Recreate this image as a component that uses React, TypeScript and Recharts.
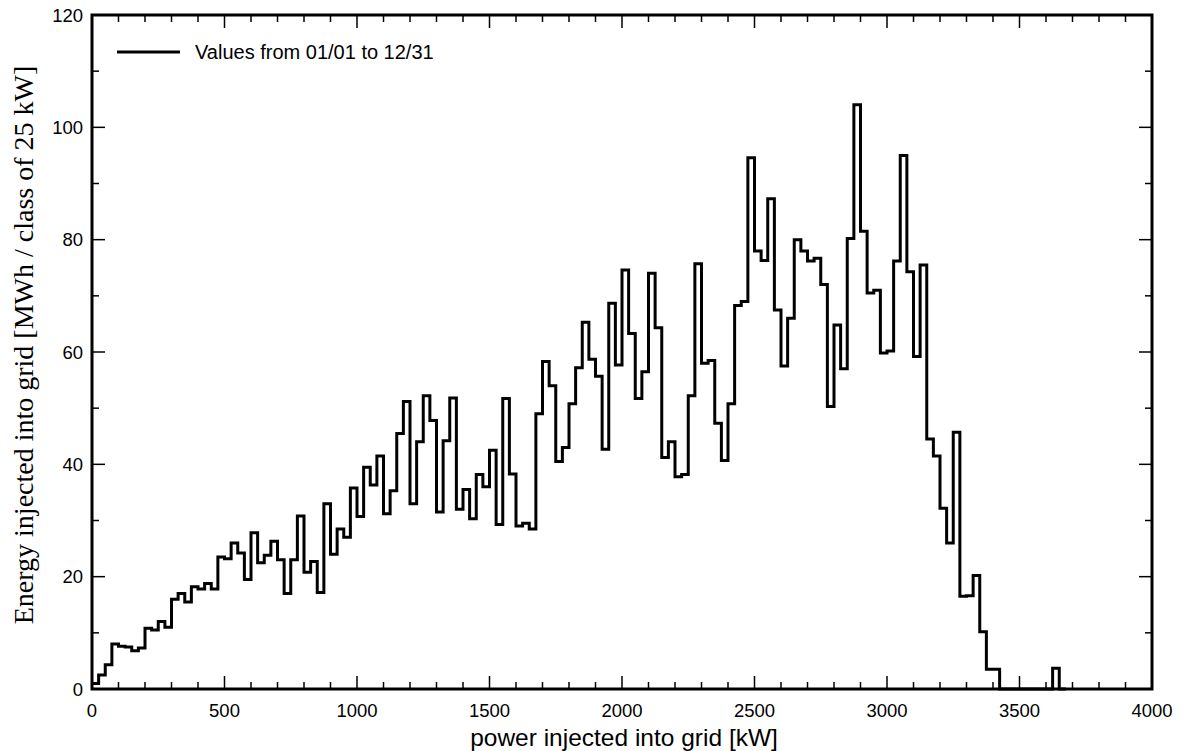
import React from "react";
import { LineChart, Line, XAxis, YAxis, Legend, ReferenceArea } from "recharts";

// energy per 25 kW class, starting at 0 kW
const binWidth = 25;
const energy = [
  1, 2.5, 4.3, 8, 7.6, 7.5, 6.8, 7.3, 10.8, 10.5, 12, 11,
  16, 17, 15.5, 18.2, 17.8, 18.8, 17.8, 23.5, 23.2, 26, 24.2, 19.5,
  27.8, 22.5, 23.8, 26.3, 23, 17, 23, 30.8, 20.8, 22.7, 17.2, 33,
  24, 28.5, 27, 35.8, 30.7, 39.5, 36.3, 41.5, 31.2, 35.3, 45.5, 51.2,
  33, 44, 52.2, 47.8, 31.5, 44.2, 51.8, 32, 35.5, 30.3, 38.2, 36,
  42.5, 29.3, 51.7, 38.3, 29, 29.5, 28.5, 49, 58.3, 54, 40.5, 43,
  50.8, 57.2, 65.3, 58.7, 55.7, 42.7, 68.7, 57.7, 74.6, 63.3, 51.7, 56.5,
  74, 64.3, 41.2, 44, 37.8, 38.2, 52.2, 75.7, 58, 58.5, 47.3, 40.7,
  50.8, 68.3, 69, 94.6, 78, 76.3, 87.3, 67.5, 57.5, 66, 80, 78,
  76.2, 76.7, 72, 50.3, 64.8, 57, 80.2, 104, 81.5, 70.5, 71, 59.8,
  60.2, 76.2, 95, 74.3, 59.2, 75.5, 44.5, 41.5, 32.2, 26, 45.7, 16.5,
  16.6, 20.2, 10.2, 3.5, 3.5, 0, 0, 0, 0, 0, 0, 0, 0, 3.7, 0,
];

const xMajor = [0, 500, 1000, 1500, 2000, 2500, 3000, 3500, 4000];
const yMajor = [0, 20, 40, 60, 80, 100, 120];
const xTicks = Array.from({ length: 41 }, (_, i) => i * 100);
const yTicks = Array.from({ length: 13 }, (_, i) => i * 10);

const data = energy.map((v, i) => ({ x: i * binWidth, v }));
data.push({ x: energy.length * binWidth, v: 0 });

const W = 1184;
const H = 751;
const PLOT = { top: 15, left: 92, right: 1152, bottom: 689 };

const sans = "'Liberation Sans', Arial, sans-serif";
const serif = "'Liberation Serif', 'Times New Roman', serif";

// ticks point inward, mirrored on the opposite side of the frame
const XTick = ({ x, payload }: any) => {
  const len = xMajor.includes(payload.value) ? 13 : 7;
  return (
    <g>
      <line x1={x} x2={x} y1={PLOT.bottom} y2={PLOT.bottom - len} stroke="#000" strokeWidth={1.5} />
      <line x1={x} x2={x} y1={PLOT.top} y2={PLOT.top + len} stroke="#000" strokeWidth={1.5} />
      {len === 13 && (
        <text x={x} y={PLOT.bottom + 28} textAnchor="middle" fontFamily={sans} fontSize={18.5} fill="#000">
          {payload.value}
        </text>
      )}
    </g>
  );
};

const YTick = ({ y, payload }: any) => {
  const len = yMajor.includes(payload.value) ? 13 : 7;
  return (
    <g>
      <line x1={PLOT.left} x2={PLOT.left + len} y1={y} y2={y} stroke="#000" strokeWidth={1.5} />
      <line x1={PLOT.right} x2={PLOT.right - len} y1={y} y2={y} stroke="#000" strokeWidth={1.5} />
      {len === 13 && (
        <text x={PLOT.left - 9} y={y + 6.5} textAnchor="end" fontFamily={sans} fontSize={18.5} fill="#000">
          {payload.value}
        </text>
      )}
    </g>
  );
};

const renderLegend = () => (
  <div style={{ display: "flex", alignItems: "center", fontFamily: sans, fontSize: 20, lineHeight: "22px" }}>
    <svg width={63} height={6} style={{ display: "block" }}>
      <line x1={0} x2={63} y1={3} y2={3} stroke="#000" strokeWidth={3} />
    </svg>
    <span style={{ marginLeft: 15 }}>Values from 01/01 to 12/31</span>
  </div>
);

export default function App() {
  return (
    <div style={{ position: "absolute", left: 0, top: 0, width: W, height: H }}>
      <LineChart
        width={W}
        height={H}
        data={data}
        margin={{ top: PLOT.top, right: W - PLOT.right, bottom: 0, left: 0 }}
      >
        <XAxis
          dataKey="x"
          type="number"
          domain={[0, 4000]}
          ticks={xTicks}
          interval={0}
          tickSize={0}
          height={H - PLOT.bottom}
          axisLine={false}
          tick={<XTick />}
          label={({ viewBox }: any) => (
            <text
              x={viewBox.x + viewBox.width / 2 + 2}
              y={746}
              textAnchor="middle"
              fontFamily={sans}
              fontSize={24.5}
              fill="#000"
            >
              power injected into grid [kW]
            </text>
          )}
        />
        <YAxis
          type="number"
          domain={[0, 120]}
          ticks={yTicks}
          interval={0}
          tickSize={0}
          width={PLOT.left}
          axisLine={false}
          tick={<YTick />}
          label={() => (
            <text
              x={33}
              y={345}
              transform="rotate(-90, 33, 345)"
              textAnchor="middle"
              fontFamily={serif}
              fontSize={28}
              fill="#000"
            >
              Energy injected into grid [MWh / class of 25 kW]
            </text>
          )}
        />
        <Legend
          verticalAlign="middle"
          align="center"
          content={renderLegend}
          wrapperStyle={{ top: 41, left: 117, width: "auto" }}
        />
        <Line
          type="stepAfter"
          dataKey="v"
          stroke="#000"
          strokeWidth={3}
          dot={false}
          isAnimationActive={false}
        />
        <ReferenceArea
          x1={0}
          x2={4000}
          y1={0}
          y2={120}
          fill="none"
          stroke="#000"
          strokeWidth={3}
          ifOverflow="visible"
        />
      </LineChart>
    </div>
  );
}
